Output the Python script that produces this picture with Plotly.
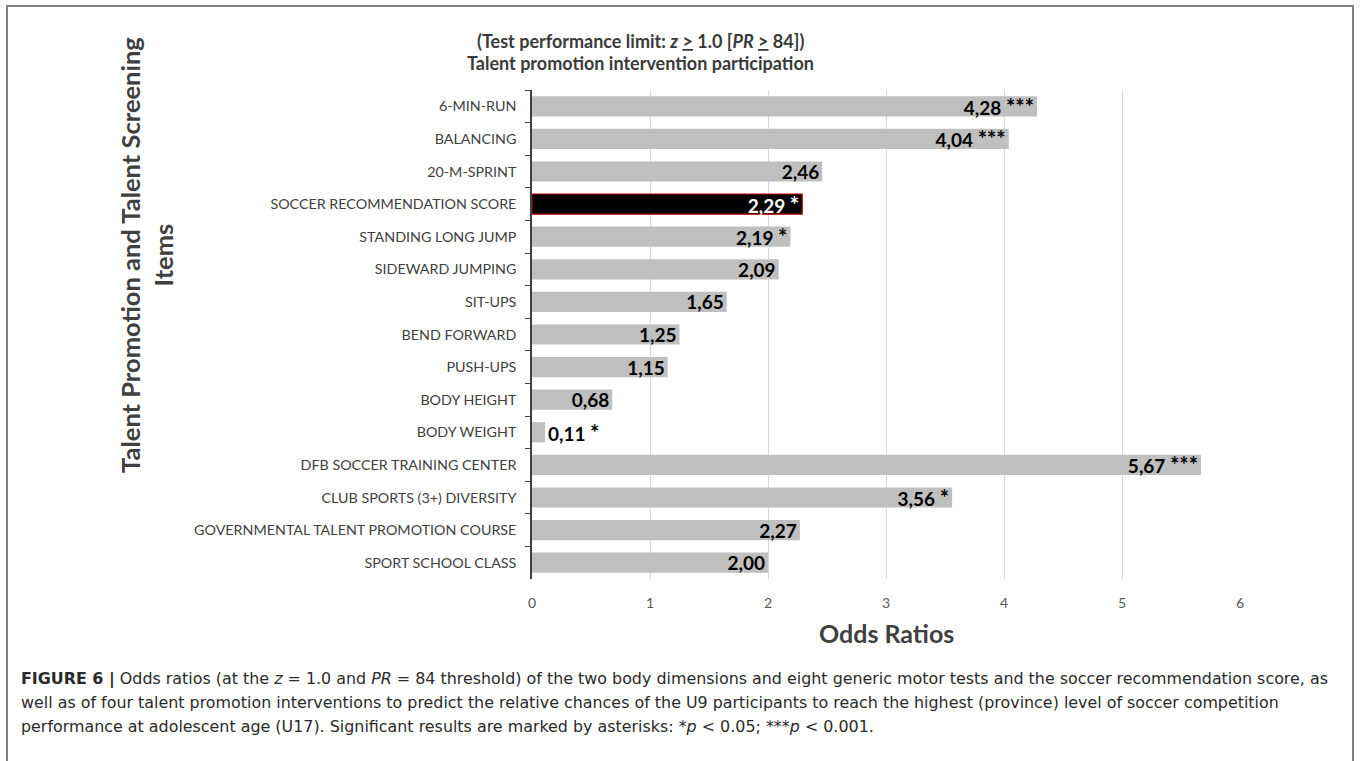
import plotly.graph_objects as go

categories = [
    "6-MIN-RUN", "BALANCING", "20-M-SPRINT", "SOCCER RECOMMENDATION SCORE",
    "STANDING LONG JUMP", "SIDEWARD JUMPING", "SIT-UPS", "BEND FORWARD",
    "PUSH-UPS", "BODY HEIGHT", "BODY WEIGHT", "DFB SOCCER TRAINING CENTER",
    "CLUB SPORTS (3+) DIVERSITY", "GOVERNMENTAL TALENT PROMOTION COURSE",
    "SPORT SCHOOL CLASS",
]
odds_ratios = [4.28, 4.04, 2.46, 2.29, 2.19, 2.09, 1.65, 1.25, 1.15, 0.68, 0.11, 5.67, 3.56, 2.27, 2.00]
significance = ["***", "***", "", "*", "*", "", "", "", "", "", "*", "***", "*", "", ""]
highlight = "SOCCER RECOMMENDATION SCORE"
x_ticks = [0, 1, 2, 3, 4, 5, 6]

labels = []
for v, s in zip(odds_ratios, significance):
    t = f"{v:.2f}".replace(".", ",")
    if s:
        t += ' <span style="font-size:22px">' + s + "</span>"
    labels.append("<b>" + t + "</b>")

colors = ["#000000" if c == highlight else "#bfbfbf" for c in categories]
line_colors = ["#c00000" if c == highlight else "#bfbfbf" for c in categories]
line_widths = [1.2 if c == highlight else 0 for c in categories]
text_colors = ["#ffffff" if c == highlight else "#000000" for c in categories]
text_pos = ["outside" if v < 0.3 else "inside" for v in odds_ratios]

# layout geometry (pixels)
W, H = 1360, 761
L, R, T, B = 532, 1240, 90, 579
pw, ph = R - L, B - T

def px(x):
    return (x - L) / pw

def py(y):
    return (B - y) / ph

fig = go.Figure(go.Bar(
    x=odds_ratios, y=categories, orientation="h",
    marker=dict(color=colors, line=dict(color=line_colors, width=line_widths)),
    text=labels, textposition=text_pos, insidetextanchor="end",
    textfont=dict(family="Lato", size=19, color=text_colors),
    constraintext="none", textangle=0, cliponaxis=False,
    hoverinfo="skip",
))

fig.update_layout(
    width=W, height=H,
    margin=dict(l=L, r=W - R, t=T, b=H - B),
    paper_bgcolor="white", plot_bgcolor="white",
    bargap=0.38, showlegend=False,
    uniformtext=dict(minsize=19, mode="show"),
    font=dict(family="Lato", color="#404040"),
)
fig.update_xaxes(
    range=[0, 6], tickvals=x_ticks, ticktext=[str(v) for v in x_ticks],
    showgrid=True, gridcolor="#d9d9d9", gridwidth=1, zeroline=False,
    showline=False, ticks="", tickfont=dict(family="Lato", size=14, color="#595959"),
    ticklabelstandoff=14,
)
fig.update_yaxes(
    categoryorder="array", categoryarray=categories, autorange="reversed",
    showline=True, linecolor="#404040", linewidth=1.5,
    ticks="outside", tickson="boundaries", ticklen=5, tickcolor="#404040",
    tickfont=dict(family="Lato", size=14.3, color="#404040"),
    ticklabelstandoff=11, showgrid=False,
)

annotations = [
    dict(x=px(640), y=py(41), text="<b>(Test performance limit: <i>z</i> <u>></u> 1.0 [<i>PR</i> <u>></u> 84])</b>",
         font=dict(family="Lato", size=18, color="#3a3a3a")),
    dict(x=px(640), y=py(63), text="<b>Talent promotion intervention participation</b>",
         font=dict(family="Lato", size=18, color="#3a3a3a")),
    dict(x=px(886), y=py(633), text="<b>Odds Ratios</b>",
         font=dict(family="Lato", size=25, color="#404040")),
    dict(x=px(146), y=py(255), text="<b>Talent Promotion and Talent Screening<br>Items</b>",
         textangle=-90, font=dict(family="Lato", size=25.5, color="#404040")),
]
for a in annotations:
    a.update(xref="paper", yref="paper", showarrow=False, xanchor="center", yanchor="middle")

caption_lines = [
    "<b>FIGURE 6 |</b> Odds ratios (at the <i>z</i> = 1.0 and <i>PR</i> = 84 threshold) of the two body dimensions and eight generic motor tests and the soccer recommendation score, as",
    "well as of four talent promotion interventions to predict the relative chances of the U9 participants to reach the highest (province) level of soccer competition",
    "performance at adolescent age (U17). Significant results are marked by asterisks: *<i>p</i> < 0.05; ***<i>p</i> < 0.001.",
]
for i, line in enumerate(caption_lines):
    annotations.append(dict(
        x=px(19), y=py(679 + 23.5 * i), xref="paper", yref="paper", showarrow=False,
        xanchor="left", yanchor="middle", align="left", text=line,
        font=dict(family="DejaVu Sans", size=15.9, color="#2a2a2a"),
    ))
fig.update_layout(annotations=annotations)

fig.add_shape(type="rect", xref="paper", yref="paper",
              x0=px(7), x1=px(1353), y0=py(780), y1=py(6),
              line=dict(color="#7f7f7f", width=2), fillcolor="rgba(0,0,0,0)", layer="below")

fig.write_html("out.html", config={"displayModeBar": False},
               post_script="document.body.style.margin='0';document.body.style.padding='0';")
